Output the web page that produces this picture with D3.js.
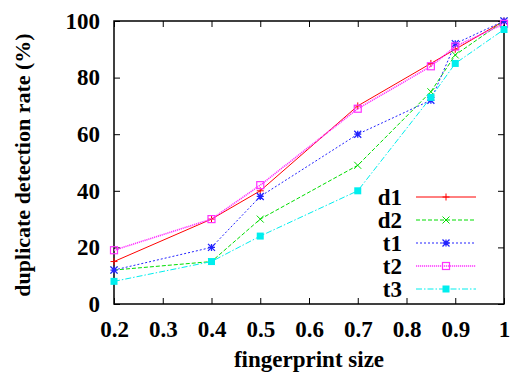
<!DOCTYPE html>
<html><head><meta charset="utf-8">
<script src="https://cdn.jsdelivr.net/npm/d3@7"></script>
<style>body{margin:0;background:#fff}svg{display:block}text{font-family:"Liberation Serif","Times New Roman",serif;font-weight:bold}</style>
</head><body><svg id="c" width="515" height="377"></svg>
<script>
const xValues = [0.2, 0.4, 0.5, 0.7, 0.85, 0.9, 1];
const seriesNames = ["d1", "d2", "t1", "t2", "t3"];
const d1 = [15, 30, 40, 70, 85, 90, 100];
const d2 = [12, 15, 30, 49, 75, 88, 100];
const t1 = [12, 20, 38, 60, 72, 92, 100];
const t2 = [19, 30, 42, 69, 84, 91, 99];
const t3 = [8, 15, 24, 40, 73, 85, 97];
const xTicks = [0.2, 0.3, 0.4, 0.5, 0.6, 0.7, 0.8, 0.9, 1];
const yTicks = [0, 20, 40, 60, 80, 100];

const seriesVals = [d1, d2, t1, t2, t3];
const colors = ["#ff0000", "#00dd00", "#2222ff", "#ff33ff", "#00eeee"];
const dashes = [null, "4,2", "2,2", "1.2,0.8", "6,2,1.5,2"];
const markers = ["plus", "cross", "star", "osquare", "fsquare"];
const FONT = '"Liberation Serif","Times New Roman",serif';

const svg = d3.select("#c");
const L = 114, R = 504, T = 21, B = 304;
const x = d3.scaleLinear().domain([0.2, 1]).range([L, R]);
const y = d3.scaleLinear().domain([0, 100]).range([B, T]);

const fmtX = d => d === 1 ? "1" : d3.format(".1f")(d);
const gxB = svg.append("g").attr("transform", `translate(0,${B})`)
  .call(d3.axisBottom(x).tickValues(xTicks).tickFormat(fmtX).tickSize(-6).tickPadding(17));
const gxT = svg.append("g").attr("transform", `translate(0,${T})`)
  .call(d3.axisTop(x).tickValues(xTicks).tickFormat("").tickSize(-6));
const gyL = svg.append("g").attr("transform", `translate(${L},0)`)
  .call(d3.axisLeft(y).tickValues(yTicks).tickSize(-6).tickPadding(14));
const gyR = svg.append("g").attr("transform", `translate(${R},0)`)
  .call(d3.axisRight(y).tickValues(yTicks).tickFormat("").tickSize(-6));
[gxB, gxT, gyL, gyR].forEach(g => {
  g.select(".domain").remove();
  g.attr("font-family", FONT).attr("font-size", 23);
  g.selectAll(".tick line").attr("stroke", "#000").attr("stroke-width", 1);
  g.selectAll("text").attr("fill", "#000").attr("font-weight", "bold");
});
gxB.selectAll("text").attr("dy", "0.71em");
svg.append("rect").attr("x", L).attr("y", T).attr("width", R - L).attr("height", B - T)
  .attr("fill", "none").attr("stroke", "#000").attr("stroke-width", 1.5);

function drawMarker(g, type, cx, cy, color) {
  const s = 3.5;
  if (type === "plus") {
    g.append("path").attr("d", `M${cx-s},${cy}H${cx+s}M${cx},${cy-s}V${cy+s}`).attr("stroke", color).attr("stroke-width", 1);
  } else if (type === "cross") {
    g.append("path").attr("d", `M${cx-s},${cy-s}L${cx+s},${cy+s}M${cx-s},${cy+s}L${cx+s},${cy-s}`).attr("stroke", color).attr("stroke-width", 1);
  } else if (type === "star") {
    g.append("path").attr("d", `M${cx-s},${cy}H${cx+s}M${cx},${cy-s}V${cy+s}M${cx-s},${cy-s}L${cx+s},${cy+s}M${cx-s},${cy+s}L${cx+s},${cy-s}`).attr("stroke", color).attr("stroke-width", 1.3);
  } else if (type === "osquare") {
    g.append("rect").attr("x", cx - s).attr("y", cy - s).attr("width", 2*s).attr("height", 2*s).attr("fill", "none").attr("stroke", color).attr("stroke-width", 1.2);
  } else {
    g.append("rect").attr("x", cx - s).attr("y", cy - s).attr("width", 2*s).attr("height", 2*s).attr("fill", color);
  }
}

const line = d3.line().x(d => x(d[0])).y(d => y(d[1]));
seriesVals.forEach((vals, i) => {
  const pts = xValues.map((xv, j) => [xv, vals[j]]);
  const g = svg.append("g");
  g.append("path").attr("d", line(pts)).attr("fill", "none").attr("stroke", colors[i])
    .attr("stroke-width", i === 3 ? 1.6 : 1).attr("stroke-dasharray", dashes[i]);
  pts.forEach(p => drawMarker(g, markers[i], x(p[0]), y(p[1]), colors[i]));
});

const legY = d3.scalePoint().domain(seriesNames).range([197, 289]);
seriesNames.forEach((name, i) => {
  const ly = legY(name);
  const g = svg.append("g");
  g.append("text").attr("x", 402).attr("y", ly).attr("dy", "0.33em").attr("text-anchor", "end")
    .attr("font-size", 23).attr("fill", "#000").text(name);
  g.append("line").attr("x1", 416).attr("x2", 476).attr("y1", ly).attr("y2", ly)
    .attr("stroke", colors[i]).attr("stroke-width", i === 3 ? 1.6 : 1).attr("stroke-dasharray", dashes[i]);
  drawMarker(g, markers[i], 446, ly, colors[i]);
});

svg.append("text").attr("x", 309).attr("y", 367).attr("text-anchor", "middle")
  .attr("font-size", 23).attr("fill", "#000").text("fingerprint size");
svg.append("text").attr("transform", "translate(30,165) rotate(-90)").attr("text-anchor", "middle")
  .attr("font-size", 22).attr("fill", "#000").text("duplicate detection rate (%)");
</script></body></html>
